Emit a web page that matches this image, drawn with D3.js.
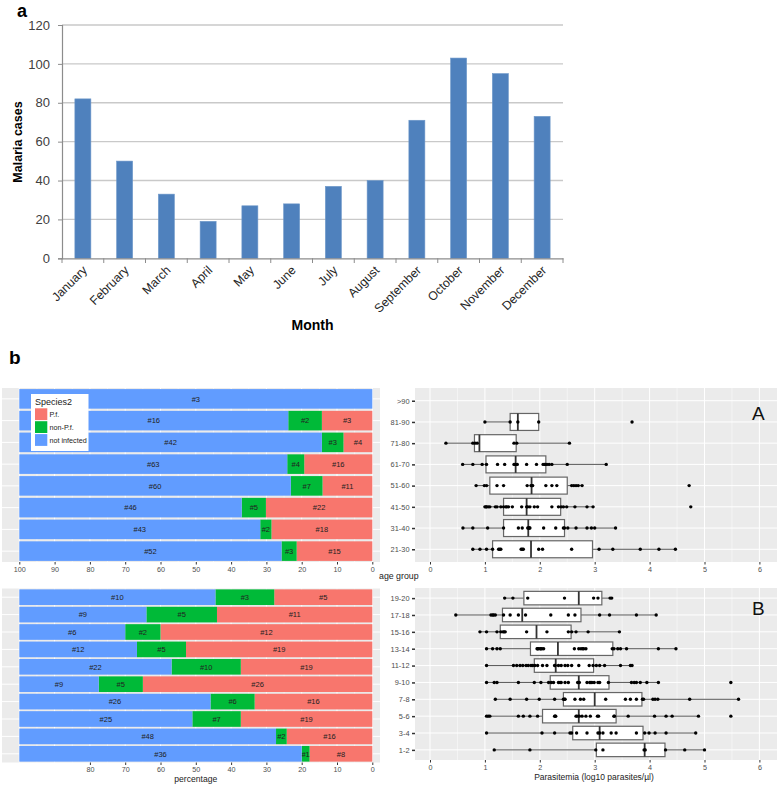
<!DOCTYPE html>
<html><head><meta charset="utf-8">
<script src="https://cdn.jsdelivr.net/npm/d3@7"></script>
<style>body{margin:0;background:#fff} svg{display:block}</style>
</head><body>
<svg id="c" width="778" height="786"></svg>
<script>
// ---------- DATA ----------
const months = ["January","February","March","April","May","June","July","August","September","October","November","December"];
const cases = [82,50,33,19,27,28,37,40,71,103,95,73];
const casesTicks = [0,20,40,60,80,100,120];

const ageGroupsA = [">90","81-90","71-80","61-70","51-60","41-50","31-40","21-30"];
const notInfectedA = [3,16,42,63,60,46,43,52];
const nonPfA = [0,2,3,4,7,5,2,3];
const pfA = [0,3,4,16,11,22,18,15];

const ageGroupsB = ["19-20","17-18","15-16","13-14","11-12","9-10","7-8","5-6","3-4","1-2"];
const notInfectedB = [10,9,6,12,22,9,26,25,48,36];
const nonPfB = [3,5,2,5,10,5,6,7,2,1];
const pfB = [5,11,12,19,19,26,16,19,16,8];

const pctTicksA = [100,90,80,70,60,50,40,30,20,10,0];
const pctTicksB = [80,70,60,50,40,30,20,10,0];
const parasTicks = [0,1,2,3,4,5,6];
const speciesKeys = ["P.f.","non-P.f.","not infected"];

// box statistics (log10 parasites/µl)
const q1A  = [null,1.46,0.81,1.02,1.09,1.34,1.34,1.14];
const medA = [null,1.60,0.90,1.56,1.85,1.76,1.79,1.84];
const q3A  = [null,1.98,1.57,2.11,2.50,2.38,2.45,2.96];
const loA  = [null,1.00,0.29,0.595,0.84,1.00,0.60,0.78];
const hiA  = [null,1.98,2.54,3.21,2.77,2.97,3.38,4.47];
const pointsA = [
  [],
  [1.00,1.46,1.60,1.98,3.68],
  [0.29,0.78,0.82,0.86,1.53,1.58,2.54],
  [0.595,0.78,0.95,1.03,1.23,1.36,1.53,1.55,1.56,1.59,1.76,1.94,2.06,2.09,2.10,2.13,2.17,2.22,2.50,3.21],
  [0.84,0.99,1.03,1.22,1.34,1.77,1.84,1.86,1.87,2.11,2.22,2.31,2.58,2.62,2.66,2.70,2.77,4.72],
  [1.00,1.02,1.03,1.06,1.09,1.19,1.22,1.29,1.34,1.38,1.40,1.43,1.50,1.67,1.76,1.78,1.82,1.90,1.96,2.22,2.34,2.39,2.43,2.49,2.64,2.86,2.97,4.75],
  [0.60,0.78,1.05,1.34,1.61,1.68,1.78,1.80,1.81,1.82,2.07,2.29,2.43,2.45,2.51,2.66,2.86,2.94,3.00,3.38],
  [0.78,0.91,1.03,1.14,1.25,1.27,1.29,1.66,1.68,1.70,1.98,2.05,2.58,3.08,3.33,3.83,4.17,4.47]
];

const q1B  = [1.71,1.32,1.28,1.83,1.90,2.19,2.43,2.05,2.60,3.03];
const medB = [2.71,1.68,1.94,2.33,2.29,2.71,3.00,2.71,3.09,3.91];
const q3B  = [3.13,2.75,2.57,3.33,2.98,3.26,3.86,3.39,3.88,4.28];
const loB  = [1.36,0.47,0.91,1.03,1.03,1.03,1.19,1.03,1.03,1.17];
const hiB  = [3.31,4.12,3.45,4.48,3.68,4.16,5.62,4.89,4.84,5.00];
const pointsB = [
  [1.36,1.51,1.78,2.45,2.98,3.06,3.28,3.31],
  [0.47,1.11,1.14,1.16,1.19,1.34,1.46,1.61,1.74,2.20,2.52,2.64,3.09,3.27,3.76,4.12],
  [0.91,1.03,1.22,1.29,1.33,1.35,1.37,1.76,2.13,2.52,2.58,2.66,2.88,3.45],
  [1.03,1.14,1.22,1.28,1.95,1.96,1.98,2.01,2.02,2.04,2.07,2.63,2.71,2.75,2.78,2.80,2.84,3.32,3.35,3.42,3.47,3.58,4.16,4.48],
  [1.03,1.52,1.58,1.64,1.69,1.75,1.79,1.84,1.87,1.91,1.96,2.05,2.13,2.27,2.28,2.34,2.39,2.46,2.51,2.58,2.71,2.90,2.97,3.03,3.09,3.18,3.47,3.65,3.68],
  [1.03,1.17,1.22,1.61,1.90,2.02,2.16,2.21,2.25,2.34,2.37,2.39,2.46,2.52,2.69,2.72,2.86,2.91,2.93,2.95,2.99,3.06,3.09,3.25,3.67,3.72,3.76,3.83,3.95,4.16,5.48],
  [1.19,1.46,1.76,1.99,2.27,2.43,2.45,2.46,2.64,2.74,2.80,3.20,3.56,3.65,3.76,3.87,3.89,4.06,4.10,4.15,4.73,5.62],
  [1.03,1.06,1.09,1.61,1.70,1.82,1.96,2.27,2.28,2.29,2.66,2.68,2.72,2.77,2.84,2.92,3.05,3.07,3.35,3.36,3.61,4.09,4.30,4.41,4.89,5.48],
  [1.03,2.04,2.27,2.55,2.58,2.67,2.86,3.06,3.09,3.15,3.30,3.39,3.76,3.91,3.99,4.10,4.30,4.84],
  [1.17,1.82,3.02,3.15,3.90,3.92,4.29,4.64,5.00]
];

// ---------- DRAW ----------
const svg = d3.select("#c");
const FONT = "'Liberation Sans', Arial, sans-serif";
const colors = {"P.f.":"#F8766D","non-P.f.":"#00BA38","not infected":"#619CFF"};

// ===== Panel a =====
const gA = svg.append("g");
const xA = d3.scaleBand().domain(months).range([62,563]).paddingInner(0.617).paddingOuter(0.3085);
const yA = d3.scaleLinear().domain([0,120]).range([258.3,25]);

gA.selectAll("line.grid").data(casesTicks.filter(t=>t>0)).join("line")
  .attr("x1",62).attr("x2",563).attr("y1",d=>yA(d)).attr("y2",d=>yA(d))
  .attr("stroke","#c9c9c9").attr("stroke-width",1.4);

gA.selectAll("rect.bar").data(months).join("rect")
  .attr("x",d=>xA(d)).attr("width",xA.bandwidth())
  .attr("y",(d,i)=>yA(cases[i])).attr("height",(d,i)=>yA(0)-yA(cases[i]))
  .attr("fill","#4F81BD").attr("stroke","#6d97c9").attr("stroke-width",0.6);

const yAxisA = d3.axisLeft(yA).tickValues(casesTicks).tickSize(4).tickPadding(8);
gA.append("g").attr("transform","translate(62,0)").call(yAxisA)
  .call(g=>{g.select(".domain").attr("stroke","#8c8c8c").attr("stroke-width",1.2);
    g.selectAll(".tick line").attr("stroke","#8c8c8c");
    g.selectAll(".tick text").attr("font-family",FONT).attr("font-size",13).attr("fill","#404040");});

const stepA = xA.step();
const xAxisA = d3.axisBottom(xA).tickSize(0).tickFormat("");
gA.append("g").attr("transform","translate(0,258.3)").call(xAxisA)
  .call(g=>{g.select(".domain").attr("stroke","#8c8c8c").attr("stroke-width",1.2);});
gA.selectAll("line.xt").data(d3.range(months.length+1)).join("line")
  .attr("x1",i=>62+i*stepA).attr("x2",i=>62+i*stepA).attr("y1",258.3).attr("y2",263)
  .attr("stroke","#8c8c8c");
gA.selectAll("text.mon").data(months).join("text")
  .attr("transform",d=>`translate(${xA(d)+xA.bandwidth()/2+5},271) rotate(-45)`)
  .attr("text-anchor","end").attr("font-family",FONT).attr("font-size",12.3).attr("fill","#262626")
  .text(d=>d);
gA.append("text").attr("transform","translate(22,142) rotate(-90)").attr("text-anchor","middle")
  .attr("font-family",FONT).attr("font-weight","bold").attr("font-size",12.5).text("Malaria cases");
gA.append("text").attr("x",312.5).attr("y",330).attr("text-anchor","middle")
  .attr("font-family",FONT).attr("font-weight","bold").attr("font-size",14).text("Month");
svg.append("text").attr("x",17).attr("y",16.5).attr("font-family",FONT).attr("font-weight","bold")
  .attr("font-size",18).text("a");
svg.append("text").attr("x",9).attr("y",364).attr("font-family",FONT).attr("font-weight","bold")
  .attr("font-size",19).text("b");

// ===== Panel b left: stacked percentage bars =====
const xPct = d3.scaleLinear().domain([100,0]).range([19.3,372.3]);

function stackedPanel(groups, notInf, nonPf, pf, top, bottom, ticks, showLegend){
  const g = svg.append("g");
  const y = d3.scaleBand().domain(groups).range([top,bottom]).paddingInner(0.1).paddingOuter(0.05);
  g.append("rect").attr("x",2).attr("y",top).attr("width",378).attr("height",bottom-top).attr("fill","#EBEBEB");
  g.selectAll("line.mn").data(d3.range(5,100,10)).join("line")
    .attr("x1",d=>xPct(d)).attr("x2",d=>xPct(d)).attr("y1",top).attr("y2",bottom)
    .attr("stroke","#fff").attr("stroke-width",0.5);
  g.selectAll("line.mj").data(d3.range(0,101,10)).join("line")
    .attr("x1",d=>xPct(d)).attr("x2",d=>xPct(d)).attr("y1",top).attr("y2",bottom)
    .attr("stroke","#fff").attr("stroke-width",1);
  g.selectAll("line.hz").data(groups).join("line")
    .attr("x1",2).attr("x2",380).attr("y1",d=>y(d)+y.bandwidth()/2).attr("y2",d=>y(d)+y.bandwidth()/2)
    .attr("stroke","#fff").attr("stroke-width",1);
  const rows = groups.map((gr,i)=>{
    const t = notInf[i]+nonPf[i]+pf[i];
    return {group:gr, "P.f.":pf[i]/t*100, "non-P.f.":nonPf[i]/t*100, "not infected":notInf[i]/t*100,
      counts:{"P.f.":pf[i],"non-P.f.":nonPf[i],"not infected":notInf[i]}};
  });
  const series = d3.stack().keys(speciesKeys)(rows);
  series.forEach(s=>{
    const sg = g.append("g");
    sg.selectAll("rect").data(s.filter(d=>d.data.counts[s.key]>0)).join("rect")
      .attr("x",d=>xPct(d[1])).attr("width",d=>xPct(d[0])-xPct(d[1]))
      .attr("y",d=>y(d.data.group)).attr("height",y.bandwidth()).attr("fill",colors[s.key]);
    sg.selectAll("text").data(s.filter(d=>d.data.counts[s.key]>0)).join("text")
      .attr("x",d=>xPct((d[0]+d[1])/2)).attr("y",d=>y(d.data.group)+y.bandwidth()/2+2.7)
      .attr("text-anchor","middle").attr("font-family",FONT).attr("font-size",7.5).attr("fill","#222")
      .text(d=>"#"+d.data.counts[s.key]);
  });
  const ax = d3.axisBottom(xPct).tickValues(ticks).tickFormat(d3.format("d")).tickSize(2.5).tickPadding(2);
  g.append("g").attr("transform",`translate(0,${bottom})`).call(ax)
    .call(a=>{a.select(".domain").remove();
      a.selectAll(".tick line").attr("stroke","#333");
      a.selectAll(".tick text").attr("font-family",FONT).attr("font-size",7.2).attr("fill","#4d4d4d");});
  if(showLegend){
    const lg = g.append("g");
    lg.append("rect").attr("x",31).attr("y",394).attr("width",57.5).attr("height",57).attr("fill","#fff");
    lg.append("text").attr("x",35).attr("y",404.5).attr("font-family",FONT).attr("font-size",9).attr("fill","#222").text("Species2");
    lg.selectAll("rect.k").data(speciesKeys).join("rect")
      .attr("x",35).attr("y",(d,i)=>408.3+i*12.9).attr("width",12.3).attr("height",11.8)
      .attr("fill",d=>colors[d]);
    lg.selectAll("text.k").data(speciesKeys).join("text")
      .attr("x",49.5).attr("y",(d,i)=>416.8+i*12.9).attr("font-family",FONT).attr("font-size",7.2).attr("fill","#222")
      .text(d=>d);
  }
}
stackedPanel(ageGroupsA, notInfectedA, nonPfA, pfA, 388, 562, pctTicksA, true);
stackedPanel(ageGroupsB, notInfectedB, nonPfB, pfB, 588.5, 762.5, pctTicksB, false);
svg.append("text").attr("x",195.8).attr("y",782).attr("text-anchor","middle")
  .attr("font-family",FONT).attr("font-size",8.6).attr("fill","#222").text("percentage");

// ===== Panel b right: box plots =====
const xP = d3.scaleLinear().domain([0,6]).range([430,759.4]);
function boxPanel(groups, q1, med, q3, lo, hi, pts, top, bottom, letter, letterY){
  const g = svg.append("g");
  const y = d3.scalePoint().domain(groups).range([top,bottom]).padding(0.6);
  const bh = y.step()*0.8;
  g.append("rect").attr("x",415).attr("y",top).attr("width",362).attr("height",bottom-top).attr("fill","#EBEBEB");
  g.selectAll("line.mn").data(d3.range(-0.5,6.6,1)).join("line")
    .attr("x1",d=>xP(d)).attr("x2",d=>xP(d)).attr("y1",top).attr("y2",bottom)
    .attr("stroke","#fff").attr("stroke-width",0.5);
  g.selectAll("line.mj").data(parasTicks).join("line")
    .attr("x1",d=>xP(d)).attr("x2",d=>xP(d)).attr("y1",top).attr("y2",bottom)
    .attr("stroke","#fff").attr("stroke-width",1);
  g.selectAll("line.hz").data(groups).join("line")
    .attr("x1",415).attr("x2",777).attr("y1",d=>y(d)).attr("y2",d=>y(d))
    .attr("stroke","#fff").attr("stroke-width",1);
  groups.forEach((gr,i)=>{
    const cy = y(gr);
    if(q1[i]!==null){
      g.append("line").attr("x1",xP(lo[i])).attr("x2",xP(q1[i])).attr("y1",cy).attr("y2",cy).attr("stroke","#555").attr("stroke-width",1);
      g.append("line").attr("x1",xP(q3[i])).attr("x2",xP(hi[i])).attr("y1",cy).attr("y2",cy).attr("stroke","#555").attr("stroke-width",1);
      g.append("rect").attr("x",xP(q1[i])).attr("width",xP(q3[i])-xP(q1[i])).attr("y",cy-bh/2).attr("height",bh)
        .attr("fill","#fff").attr("stroke","#666").attr("stroke-width",1.2);
      g.append("line").attr("x1",xP(med[i])).attr("x2",xP(med[i])).attr("y1",cy-bh/2).attr("y2",cy+bh/2)
        .attr("stroke","#333").attr("stroke-width",1.8);
    }
    g.selectAll(null).data(pts[i]).join("circle")
      .attr("cx",d=>xP(d)).attr("cy",cy).attr("r",1.7).attr("fill","#000");
  });
  const ay = d3.axisLeft(y).tickSize(3).tickPadding(2.5);
  g.append("g").attr("transform","translate(415,0)").call(ay)
    .call(a=>{a.select(".domain").remove();
      a.selectAll(".tick line").attr("stroke","#333").attr("stroke-width",1.5);
      a.selectAll(".tick text").attr("font-family",FONT).attr("font-size",7.4).attr("fill","#4d4d4d");});
  const ax = d3.axisBottom(xP).tickValues(parasTicks).tickFormat(d3.format("d")).tickSize(2.5).tickPadding(2);
  g.append("g").attr("transform",`translate(0,${bottom})`).call(ax)
    .call(a=>{a.select(".domain").remove();
      a.selectAll(".tick line").attr("stroke","#333");
      a.selectAll(".tick text").attr("font-family",FONT).attr("font-size",7.2).attr("fill","#4d4d4d");});
  g.append("text").attr("x",752).attr("y",letterY).attr("font-family",FONT).attr("font-size",19).attr("fill","#111").text(letter);
}
boxPanel(ageGroupsA, q1A, medA, q3A, loA, hiA, pointsA, 388, 562, "A", 420);
boxPanel(ageGroupsB, q1B, medB, q3B, loB, hiB, pointsB, 588, 760, "B", 615);
svg.append("text").attr("x",379).attr("y",579).attr("font-family",FONT).attr("font-size",8.8).attr("fill","#222").text("age group");
svg.append("text").attr("x",594).attr("y",780).attr("text-anchor","middle")
  .attr("font-family",FONT).attr("font-size",8.5).attr("fill","#222").text("Parasitemia (log10 parasites/µl)");
</script>
</body></html>
